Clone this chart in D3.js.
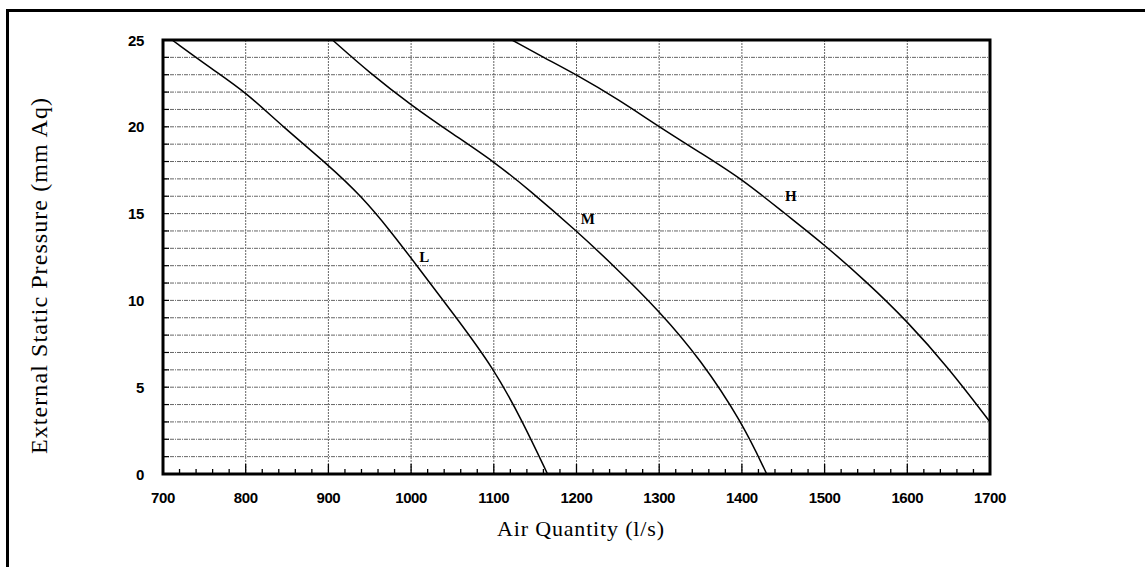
<!DOCTYPE html>
<html><head><meta charset="utf-8">
<script src="https://cdn.jsdelivr.net/npm/d3@7"></script>
<style>html,body{margin:0;padding:0;background:#fff;}svg{display:block;}</style>
</head><body>
<script>
// ---- data ----
const xTicks = [700, 800, 900, 1000, 1100, 1200, 1300, 1400, 1500, 1600, 1700];
const yTicks = [0, 5, 10, 15, 20, 25];
const curveNames = ["L", "M", "H"];
const lowQ  = [711, 760, 800, 845, 900, 940, 975, 1007, 1050, 1100, 1135, 1165];
const lowP  = [25, 23.3, 22, 20, 17.8, 16, 14, 12, 9.3, 6.1, 3, 0];
const medQ  = [905, 950, 1000, 1050, 1100, 1142, 1200, 1245, 1300, 1350, 1400, 1430];
const medP  = [25, 23.1, 21.25, 19.6, 18, 16.4, 14, 12, 9.4, 6.6, 3, 0];
const highQ = [1122, 1160, 1200, 1250, 1300, 1350, 1400, 1452, 1500, 1550, 1600, 1650, 1700];
const highP = [25, 24, 23, 21.6, 20, 18.5, 17, 15, 13.2, 11.1, 8.8, 6.1, 3];
const labelQ = [1010, 1205, 1452];
const labelP = [12.4, 14.6, 15.9];

const W = 1145, H = 567;
const svg = d3.select("body").append("svg").attr("width", W).attr("height", H);

// outer frame (top + left only visible)
svg.append("line").attr("x1", 6).attr("x2", W).attr("y1", 10.5).attr("y2", 10.5).attr("stroke", "#000").attr("stroke-width", 3);
svg.append("line").attr("x1", 7.5).attr("x2", 7.5).attr("y1", 9).attr("y2", H).attr("stroke", "#000").attr("stroke-width", 3);

const x = d3.scaleLinear().domain([700, 1700]).range([163, 990]);
const y = d3.scaleLinear().domain([0, 25]).range([474, 40]);

const g = svg.append("g");

// horizontal gridlines every 1 unit
const yGrid = d3.range(1, 25);
g.selectAll("line.hg").data(yGrid).join("line")
  .attr("x1", x(700)).attr("x2", x(1700))
  .attr("y1", d => y(d)).attr("y2", d => y(d))
  .attr("stroke", "#666").attr("stroke-width", 1).attr("stroke-dasharray", "4,1,1,1");
// left inner ticks
g.selectAll("line.lt").data(yGrid).join("line")
  .attr("x1", x(700)).attr("x2", x(700) + 6)
  .attr("y1", d => y(d)).attr("y2", d => y(d))
  .attr("stroke", "#000").attr("stroke-width", 1.2);
// vertical gridlines every 100
const xGrid = xTicks.slice(1, -1);
g.selectAll("line.vg").data(xGrid).join("line")
  .attr("x1", d => x(d)).attr("x2", d => x(d))
  .attr("y1", y(25)).attr("y2", y(0))
  .attr("stroke", "#666").attr("stroke-width", 1).attr("stroke-dasharray", "2,1");
// bottom ticks: majors
g.selectAll("line.bt").data(xGrid).join("line")
  .attr("x1", d => x(d)).attr("x2", d => x(d))
  .attr("y1", y(0)).attr("y2", y(0) - 10)
  .attr("stroke", "#000").attr("stroke-width", 1.3);
// minor ticks every 20
const minor = d3.range(700, 1700, 20).filter(v => v % 100 !== 0);
g.selectAll("line.mt").data(minor).join("line")
  .attr("x1", d => x(d)).attr("x2", d => x(d))
  .attr("y1", y(0)).attr("y2", y(0) - 5)
  .attr("stroke", "#000").attr("stroke-width", 1.3);

// curves
const lineGen = d3.line().x(d => x(d[0])).y(d => y(d[1])).curve(d3.curveBasis);
const series = [d3.zip(lowQ, lowP), d3.zip(medQ, medP), d3.zip(highQ, highP)];
g.selectAll("path.curve").data(series).join("path")
  .attr("d", d => lineGen(d))
  .attr("fill", "none").attr("stroke", "#000").attr("stroke-width", 1.5);

// plot frame
g.append("rect").attr("x", x(700)).attr("y", y(25)).attr("width", x(1700) - x(700)).attr("height", y(0) - y(25))
  .attr("fill", "none").attr("stroke", "#000").attr("stroke-width", 3);

// curve labels
g.selectAll("text.cl").data(curveNames).join("text")
  .attr("x", (d, i) => x(labelQ[i])).attr("y", (d, i) => y(labelP[i]))
  .attr("font-family", "Liberation Serif, Times New Roman, serif").attr("font-weight", "bold")
  .attr("font-size", 15).attr("fill", "#000").attr("dominant-baseline", "middle")
  .text(d => d);

// tick labels
const tickFont = "Liberation Sans, Arial, sans-serif";
g.selectAll("text.xt").data(xTicks).join("text")
  .attr("x", d => x(d)).attr("y", 503).attr("text-anchor", "middle")
  .attr("font-family", tickFont).attr("font-weight", "bold").attr("font-size", 15)
  .attr("letter-spacing", -0.4).text(d => d);
g.selectAll("text.yt").data(yTicks).join("text")
  .attr("x", 144).attr("y", d => y(d) + 5.5).attr("text-anchor", "end")
  .attr("font-family", tickFont).attr("font-weight", "bold").attr("font-size", 15)
  .attr("letter-spacing", -0.4).text(d => d);

// axis titles
svg.append("text").attr("x", 580.5).attr("y", 536).attr("text-anchor", "middle")
  .attr("font-family", "Liberation Serif, Times New Roman, serif").attr("font-size", 22)
  .attr("textLength", 167).attr("lengthAdjust", "spacing")
  .text("Air Quantity (l/s)");
svg.append("text").attr("transform", "translate(47,276) rotate(-90)").attr("text-anchor", "middle")
  .attr("font-family", "Liberation Serif, Times New Roman, serif").attr("font-size", 24)
  .attr("textLength", 356).attr("lengthAdjust", "spacing")
  .text("External Static Pressure (mm Aq)");
</script>
</body></html>
